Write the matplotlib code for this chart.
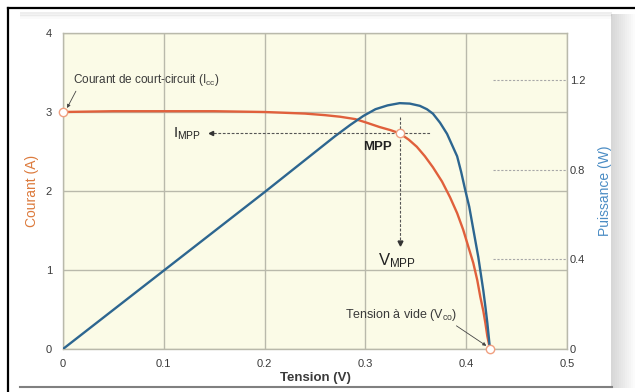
"""I-V and P-V characteristic of a photovoltaic cell (recreated figure)."""

import matplotlib

matplotlib.use("Agg")
import matplotlib.pyplot as plt
from matplotlib.lines import Line2D
from matplotlib.patches import Rectangle

plt.rcParams["font.family"] = ["Liberation Sans", "DejaVu Sans"]

# Current curve (A)
volt_i = [0.0, 0.05, 0.1, 0.15, 0.2, 0.24, 0.26, 0.275, 0.29, 0.30, 0.314,
          0.325, 0.334, 0.343, 0.351, 0.359, 0.367, 0.376, 0.384, 0.391,
          0.397, 0.402, 0.407, 0.411, 0.414, 0.417, 0.419, 0.421, 0.4236]
current = [3.0, 3.01, 3.01, 3.01, 3.0, 2.98, 2.96, 2.94, 2.91, 2.87, 2.81,
           2.77, 2.73, 2.65, 2.56, 2.44, 2.30, 2.12, 1.92, 1.72,
           1.51, 1.30, 1.09, 0.87, 0.66, 0.48, 0.33, 0.16, 0.0]

# Power curve (W)
volt_p = [0.0, 0.05, 0.1, 0.15, 0.2, 0.242, 0.27, 0.285, 0.298, 0.31, 0.322,
          0.334, 0.344, 0.354, 0.361, 0.367, 0.374, 0.381, 0.386, 0.391,
          0.395, 0.399, 0.403, 0.406, 0.409, 0.412, 0.4145, 0.417, 0.419,
          0.421, 0.4236]
power = [0.0, 0.175, 0.35, 0.525, 0.70, 0.85, 0.95, 1.00, 1.04, 1.07, 1.087,
         1.097, 1.095, 1.085, 1.07, 1.05, 1.01, 0.96, 0.91, 0.86,
         0.79, 0.71, 0.635, 0.56, 0.485, 0.41, 0.335, 0.26, 0.19,
         0.115, 0.0]

v_ticks = [0, 0.1, 0.2, 0.3, 0.4, 0.5]
v_labels = ["0", "0.1", "0.2", "0.3", "0.4", "0.5"]
i_ticks = [0, 1, 2, 3, 4]
p_ticks = [0, 0.4, 0.8, 1.2]
p_labels = ["0", "0.4", "0.8", "1.2"]

i_cc = 3.0
v_co = 0.4236
v_mpp, i_mpp = 0.334, 2.73

W, H = 635, 392
RED = "#e0603c"
BLUE = "#2d6690"
GRID = "#b9b9ab"
TXT = "#3a3a3a"


def fx(px):
    return px / W


def fy(py):
    return 1 - py / H


fig = plt.figure(figsize=(W / 100, H / 100), dpi=100, facecolor="white")

# scanned page decorations: frame and panel shadow
fig.add_artist(Line2D([fx(8), fx(8)], [0, fy(8)], color="black", lw=1.6,
                      transform=fig.transFigure))
fig.add_artist(Line2D([fx(8), 1], [fy(8), fy(8)], color="black", lw=1.6,
                      transform=fig.transFigure))
for k in range(12):
    fig.add_artist(Rectangle((fx(611 + k * 2), fy(388)), fx(2), fy(14) - fy(388),
                             color="#707070", alpha=0.28 * (1 - k / 12),
                             lw=0, transform=fig.transFigure))
for k in range(4):
    fig.add_artist(Rectangle((fx(20), fy(14 + k * 1.5)), fx(592), 1.5 / H,
                             color="#909090", alpha=0.15 * (1 - k / 4),
                             lw=0, transform=fig.transFigure))
fig.add_artist(Line2D([fx(20), fx(612)], [fy(386.5), fy(386.5)], color="#808080",
                      lw=1.5, transform=fig.transFigure))

ax = fig.add_axes([fx(63), fy(349), fx(504), fy(33) - fy(349)])
ax.set_facecolor("#fbfbe7")
ax.set_xlim(0, 0.5)
ax.set_ylim(0, 4.0)
ax.set_xticks(v_ticks)
ax.set_xticklabels(v_labels)
ax.set_yticks(i_ticks)
ax.grid(True, color=GRID, lw=1.0)
ax.set_axisbelow(True)
for s in ax.spines.values():
    s.set_color(GRID)
    s.set_linewidth(1.0)
ax.tick_params(length=0, labelsize=8, colors=TXT)
ax.tick_params(axis="x", pad=7)
ax.tick_params(axis="y", pad=8)
ax.set_xlabel("Tension (V)", fontsize=9.5, fontweight="bold", color=TXT,
              labelpad=2)
ax.set_ylabel("Courant (A)", fontsize=10, color="#dc7a3c", labelpad=5)

ax.plot(volt_i, current, color=RED, lw=1.7, solid_capstyle="round")

ax2 = ax.twinx()
ax2.set_ylim(0, 1.41)
ax2.set_yticks(p_ticks)
ax2.set_yticklabels(p_labels)
ax2.tick_params(length=0, labelsize=8, colors=TXT, pad=2)
for s in ax2.spines.values():
    s.set_visible(False)
ax2.set_ylabel("Puissance (W)", fontsize=10, color="#4a8cc4", labelpad=9)
ax2.hlines(p_ticks[1:], 0.427, 0.5, color="#a8a8a8", lw=0.8,
           linestyles=(0, (2, 1.5)))

ax2.plot(volt_p, power, color=BLUE, lw=1.7, solid_capstyle="round")

t = ax.transData
# MPP construction lines
ax2.plot([0.145, 0.364], [i_mpp, i_mpp], color="#555555", lw=0.8,
         ls=(0, (2.5, 1.5)), transform=t)
ax2.plot([0.147], [i_mpp], marker="<", ms=3, color="#333333", transform=t)
ax2.plot([v_mpp, v_mpp], [2.94, 1.36], color="#555555", lw=0.8,
         ls=(0, (2.5, 1.5)), transform=t)
ax2.plot([v_mpp], [1.34], marker="v", ms=3.5, color="#333333", transform=t)

# characteristic points
for vv, ii in [(0.0, i_cc), (v_mpp, i_mpp), (v_co, 0.0)]:
    ax2.plot([vv], [ii], marker="o", ms=6, mfc="white", mec="#f0a080",
             mew=1.0, transform=t, clip_on=False, zorder=5)

arrow = dict(arrowstyle="-|>", mutation_scale=5, lw=0.6, color="#444444",
             shrinkA=0, shrinkB=0)
ax2.annotate(r"Courant de court-circuit ($\mathregular{I_{cc}}$)",
             xy=(0.004, 3.05), xycoords=t, xytext=(0.0099, 3.40),
             textcoords=t, fontsize=8.5, color=TXT, ha="left", va="center",
             arrowprops=dict(arrow, relpos=(0.03, 0.0)))
ax2.annotate(r"Tension à vide ($\mathregular{V_{co}}$)",
             xy=(0.420, 0.04), xycoords=t, xytext=(0.336, 0.43),
             textcoords=t, fontsize=9, color=TXT, ha="center", va="center",
             arrowprops=dict(arrow, relpos=(0.95, 0.0)))

ax2.text(0.109, i_mpp, r"$\mathregular{I_{MPP}}$", transform=t, fontsize=10.5,
         color="#222222", ha="left", va="center")
ax2.text(0.331, 1.12, r"$\mathregular{V_{MPP}}$", transform=t, fontsize=12,
         color="#222222", ha="center", va="center")
ax2.text(0.3125, 2.56, "MPP", transform=t, fontsize=9.5, fontweight="bold",
         color="#222222", ha="center", va="center")

fig.savefig("out.png", dpi=100, facecolor="white")
